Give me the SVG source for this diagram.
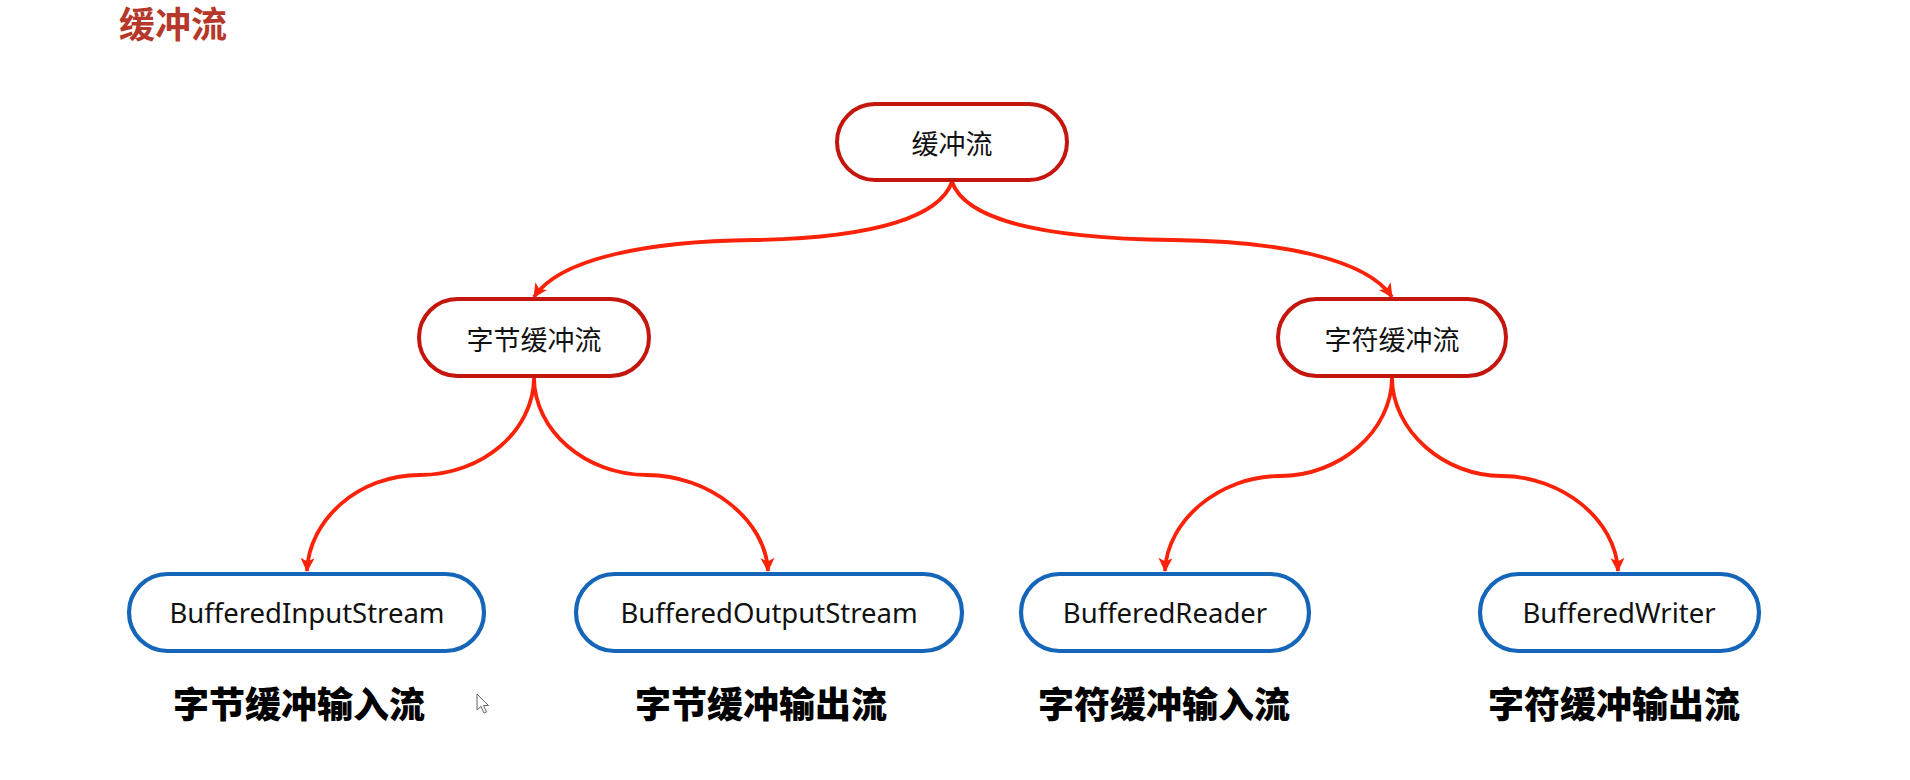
<svg xmlns="http://www.w3.org/2000/svg" width="1910" height="780" viewBox="0 0 1910 780">
<style>
.bg{fill:#ffffff}
.title{font-family:"Noto Sans CJK SC","Noto Sans",sans-serif;font-size:36px;font-weight:700;fill:#b5382a}
.rnode{fill:#ffffff;stroke:#c4160c;stroke-width:4}
.bnode{fill:#ffffff;stroke:#1566b8;stroke-width:4.2}
.ctext{font-family:"Noto Sans CJK SC","Noto Sans",sans-serif;font-size:27px;fill:#111111;text-anchor:middle;dominant-baseline:central}
.etext{font-family:"Noto Sans","Noto Sans CJK SC",sans-serif;font-size:27.5px;fill:#111111;text-anchor:middle;dominant-baseline:central}
.label{font-family:"Noto Sans CJK SC",sans-serif;font-size:36px;font-weight:900;fill:#000000;text-anchor:middle;dominant-baseline:central}
.conn{fill:none;stroke:#fa2208;stroke-width:3.8;marker-end:url(#arr)}
</style>
<defs>
<marker id="arr" viewBox="0 0 14 14" refX="13" refY="7" markerWidth="14" markerHeight="14" markerUnits="userSpaceOnUse" orient="auto">
<path d="M0,0 L14,7 L0,14 L3.5,7 Z" fill="#fa2208"/>
</marker>
</defs>
<rect class="bg" x="0" y="0" width="1910" height="780"/>
<text class="title" x="119" y="38">缓冲流</text>

<g id="connectors">
<path class="conn" d="M952,182 C940,215 880,238 753,240 C650,241 560,258 534,297"/>
<path class="conn" d="M952,182 C964,215 1024,238 1173,240 C1276,241 1366,258 1392,297"/>
<path class="conn" d="M534,377 C534,431 482,475 420,475 C358,475 309,520 307,571"/>
<path class="conn" d="M534,377 C534,431 586,475 647,475 C709,475 766,520 768,571"/>
<path class="conn" d="M1392,377 C1392,431 1340,476 1280,476 C1220,476 1167,520 1165,571"/>
<path class="conn" d="M1392,377 C1392,431 1444,476 1502,476 C1562,476 1616,520 1618,571"/>
</g>

<g id="node-root">
<rect class="rnode" x="837" y="104" width="230" height="76" rx="38"/>
<text class="ctext" x="952" y="142">缓冲流</text>
</g>
<g id="node-byte">
<rect class="rnode" x="419" y="299" width="230" height="77" rx="38.5"/>
<text class="ctext" x="534" y="338">字节缓冲流</text>
</g>
<g id="node-char">
<rect class="rnode" x="1278" y="299" width="228" height="77" rx="38.5"/>
<text class="ctext" x="1392" y="338">字符缓冲流</text>
</g>
<g id="node-bis">
<rect class="bnode" x="129" y="574" width="355" height="77" rx="38.5"/>
<text class="etext" x="307" y="612">BufferedInputStream</text>
</g>
<g id="node-bos">
<rect class="bnode" x="576" y="574" width="386" height="77" rx="38.5"/>
<text class="etext" x="769" y="612">BufferedOutputStream</text>
</g>
<g id="node-br">
<rect class="bnode" x="1021" y="574" width="288" height="77" rx="38.5"/>
<text class="etext" x="1165" y="612">BufferedReader</text>
</g>
<g id="node-bw">
<rect class="bnode" x="1480" y="574" width="279" height="77" rx="38.5"/>
<text class="etext" x="1619" y="612">BufferedWriter</text>
</g>

<g id="labels">
<text class="label" x="299" y="702">字节缓冲输入流</text>
<text class="label" x="761" y="702">字节缓冲输出流</text>
<text class="label" x="1164" y="702">字符缓冲输入流</text>
<text class="label" x="1614" y="702">字符缓冲输出流</text>
</g>

<path d="M477,694 L477,710 L481,706.5 L484,713 L486.5,712 L483.5,705.5 L488.5,705.5 Z" fill="#ffffff" stroke="#666666" stroke-width="1"/>
</svg>
